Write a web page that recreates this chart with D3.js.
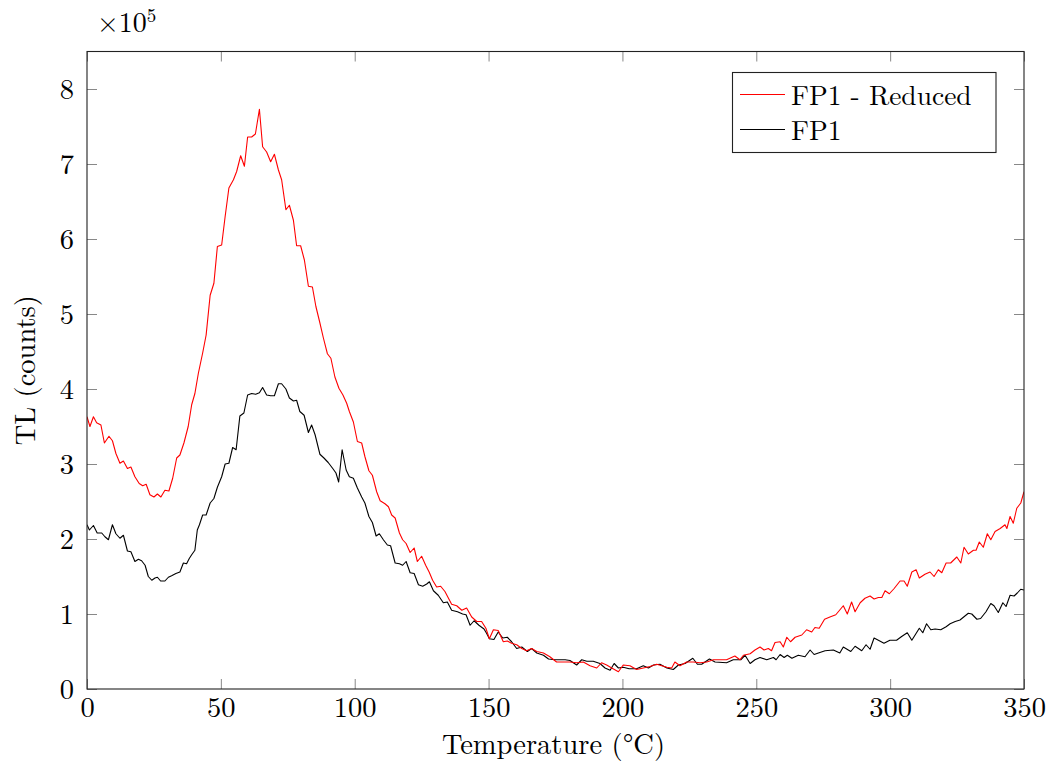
<!DOCTYPE html>
<html>
<head>
<meta charset="utf-8">
<script src="https://cdn.jsdelivr.net/npm/d3@7"></script>
<style>
  html, body { margin: 0; padding: 0; background: #fff; }
  svg text { font-family: "Latin Modern Roman", "CMU Serif", "Liberation Serif", serif; fill: #000; }
</style>
</head>
<body>
<svg id="chart" width="1058" height="771"></svg>
<script>
// Temperature (°C) and TL counts (×10^5)
const tempRed = [0,1.1,2.4,3.6,5.2,6.5,8.2,9.5,10.8,12.3,13.6,15.1,16.4,17.9,19.5,20.8,22.1,23.5,25,26.3,27.6,29.1,30.6,32,33.5,34.7,36.2,37.8,39.1,40.3,41.6,43.2,44.5,46,47.4,48.7,50.3,51.6,53,54.7,55.9,57.4,58.8,60,61.5,62.9,64.4,65.6,67.1,68.6,70,71.5,72.7,74.3,75.6,77.1,78.3,79.8,81.2,82.7,84.2,85.5,87,88.3,89.8,91.1,92.6,94.1,95.6,97,98,99.5,101,102.6,103.8,105.3,106.6,108.2,109.5,111.3,112.6,113.8,115.1,116.7,117.9,119.2,120.7,122.2,123.4,125,126.5,127.8,129.1,130.6,132.1,133.7,136.2,138.1,140,141.8,143.7,145.6,147.4,149,150.3,151.8,153.6,155.5,157,158.6,160.5,162.4,164.2,166.1,168,170.5,172.9,175.4,177.9,180.4,182.9,185.4,187.9,190.4,192.2,194.1,196,198.5,200.3,202.8,205.3,207.8,210.3,212.8,216.6,218.4,219.6,221.5,224,226.5,229,231.5,234,236.5,238.9,242,243.9,245.2,247.7,249.5,251.4,252.9,254.5,255.7,257,258.9,260.1,261.4,262.8,264.5,267,268.8,270.7,271.9,273.5,275.5,277.5,279.7,282.5,284,285.6,286.9,288.8,290.6,292.5,294,295.6,296.9,298.1,299.7,301.5,303.7,305.2,306.4,308.1,309.7,310.9,313,314.9,316.4,318,319.3,320.9,322.6,324.9,326.4,327.6,329.2,331.1,332.1,333.3,334.8,336.3,337.6,339.2,341.1,342.9,343.6,344.8,346,347.3,348.8,350];
const countsRed = [3.63,3.50,3.63,3.55,3.52,3.28,3.37,3.31,3.14,3.01,3.04,2.94,2.96,2.83,2.74,2.71,2.73,2.59,2.56,2.60,2.56,2.65,2.64,2.81,3.08,3.12,3.28,3.50,3.79,3.94,4.21,4.48,4.72,5.25,5.41,5.90,5.92,6.30,6.68,6.79,6.90,7.11,6.97,7.36,7.36,7.40,7.73,7.23,7.16,7.03,7.13,6.92,6.79,6.39,6.45,6.25,5.91,5.91,5.72,5.37,5.36,5.10,4.88,4.68,4.47,4.41,4.16,4.01,3.92,3.81,3.70,3.56,3.30,3.28,3.10,2.91,2.85,2.63,2.51,2.47,2.43,2.32,2.28,2.08,1.99,1.94,1.82,1.88,1.70,1.77,1.65,1.56,1.45,1.36,1.37,1.30,1.13,1.11,1.05,1.08,0.96,0.90,0.90,0.81,0.67,0.79,0.78,0.63,0.64,0.61,0.59,0.54,0.51,0.54,0.50,0.48,0.43,0.36,0.36,0.36,0.35,0.36,0.31,0.28,0.35,0.32,0.28,0.23,0.32,0.31,0.26,0.28,0.30,0.33,0.29,0.28,0.36,0.31,0.36,0.36,0.35,0.36,0.39,0.39,0.39,0.44,0.39,0.45,0.47,0.52,0.56,0.52,0.54,0.51,0.62,0.63,0.56,0.69,0.63,0.69,0.72,0.79,0.76,0.82,0.81,0.93,0.96,0.99,1.11,1.00,1.16,1.03,1.15,1.21,1.24,1.20,1.22,1.22,1.31,1.27,1.34,1.44,1.44,1.37,1.56,1.59,1.48,1.53,1.56,1.50,1.59,1.55,1.68,1.68,1.76,1.68,1.89,1.80,1.85,1.85,1.96,1.89,2.07,1.99,2.10,2.14,2.19,2.14,2.30,2.21,2.41,2.48,2.63];

const tempBlack = [0,0.9,2.4,3.8,5.5,6.7,8,9.5,10.8,12.3,13.6,15.1,16.4,17.9,19.2,20.4,21.7,22.9,24.2,25.4,26.3,27.5,29.1,30.4,31.6,33.2,34.7,36,37.2,38.2,39.1,40.3,41.2,42,43.2,44.5,46,47.4,48.7,50.3,51.6,53,54.4,55.7,57.1,58.6,60,61.5,63,64.4,65.6,67.1,68.6,70,71.5,72.7,74.3,75.6,77.1,78.3,79.5,81.1,82.7,83.9,85.2,87,88.5,90.1,91.8,93,94,95.3,96.8,98,99.5,101,102.6,103.8,105.3,106.6,108,109.2,110.7,112.2,113.4,115.1,116.7,117.9,119.2,120.7,122.2,123.8,125.4,126.9,127.9,129.4,131.2,133.1,134.6,136.2,138.4,140.3,141.6,143.1,144.6,146.4,148.3,149.3,150.3,152,153.6,155.3,157,158.6,160.5,162.4,164.5,166.1,168,170.5,172.4,174.8,176.7,178.6,180.4,182.9,184.8,186.7,189.1,191.6,193.5,195.4,196.9,198.5,200.3,202.5,205.3,207.8,209.7,211.6,214,216.6,219,220.9,223.4,226.3,228,229.6,232.5,234.6,238.9,241.4,244.2,245.8,247.7,249.5,251.4,253.9,256.4,257.4,258.9,260.4,261.6,263.3,265.7,268.2,270.1,271.6,273.2,275.7,278.8,281.2,282.5,285.3,286.9,289.4,291,292.5,294,295.6,297.7,299.9,302.4,304.3,306.4,308.1,310.9,312.2,313.6,315.2,316.8,318.9,320.9,322.4,324.3,326.1,329.2,330.5,332.4,333.8,335.8,337.6,338.8,340.4,342.1,343.3,344.8,346.3,347.5,348.8,350];
const countsBlack = [2.19,2.12,2.18,2.08,2.08,2.03,1.99,2.19,2.07,2.01,2.05,1.84,1.83,1.70,1.73,1.71,1.65,1.50,1.45,1.48,1.49,1.44,1.44,1.49,1.51,1.54,1.56,1.68,1.67,1.74,1.79,1.85,2.12,2.19,2.32,2.32,2.48,2.54,2.69,2.83,3.00,3.01,3.22,3.19,3.64,3.68,3.92,3.94,3.93,3.95,4.02,3.92,3.91,3.91,4.07,4.07,4.00,3.88,3.84,3.85,3.70,3.65,3.42,3.52,3.39,3.13,3.08,3.02,2.94,2.88,2.76,3.19,2.92,2.83,2.81,2.68,2.56,2.48,2.30,2.22,2.04,2.07,1.99,1.92,1.91,1.68,1.67,1.65,1.70,1.55,1.54,1.39,1.37,1.40,1.43,1.31,1.25,1.15,1.16,1.05,1.03,1.00,0.99,0.85,0.91,0.85,0.80,0.74,0.67,0.66,0.76,0.68,0.69,0.63,0.54,0.56,0.50,0.54,0.48,0.45,0.40,0.39,0.39,0.39,0.38,0.32,0.39,0.37,0.37,0.34,0.28,0.25,0.34,0.28,0.29,0.27,0.27,0.31,0.28,0.32,0.33,0.28,0.26,0.32,0.34,0.41,0.33,0.33,0.40,0.36,0.35,0.39,0.39,0.45,0.34,0.39,0.42,0.39,0.42,0.39,0.46,0.42,0.45,0.41,0.45,0.43,0.52,0.46,0.48,0.51,0.52,0.48,0.56,0.50,0.57,0.51,0.59,0.53,0.68,0.65,0.61,0.65,0.65,0.70,0.75,0.65,0.81,0.75,0.87,0.79,0.80,0.79,0.83,0.87,0.90,0.92,1.01,1.00,0.93,0.94,1.03,1.14,1.11,1.02,1.15,1.10,1.25,1.24,1.28,1.33,1.32];

const xTicks = [0, 50, 100, 150, 200, 250, 300, 350];
const yTicks = [0, 1, 2, 3, 4, 5, 6, 7, 8];
const seriesNames = ["FP1 - Reduced", "FP1"];
const seriesColors = ["#ff0000", "#000000"];

const svg = d3.select("#chart");
const L = 87, R = 1024, T = 51.5, B = 689;
const x = d3.scaleLinear().domain([0, 350]).range([L, R]);
const y = d3.scaleLinear().domain([0, 8.5]).range([B, T]);
const FONT = "Latin Modern Roman, CMU Serif, Liberation Serif, serif";
const FS = "28.5px";

// ticks (inward, all four sides)
function styleAxis(g, labels) {
  g.attr("font-family", FONT);
  g.select(".domain").remove();
  g.selectAll(".tick line").attr("stroke", "#888").attr("stroke-width", 1);
  if (!labels) g.selectAll(".tick text").remove();
  else g.selectAll(".tick text").style("font-size", FS).attr("fill", "#000");
}
svg.append("g").attr("transform", `translate(0,${B})`)
  .call(d3.axisBottom(x).tickValues(xTicks).tickSizeInner(-10).tickSizeOuter(0).tickPadding(8).tickFormat(d3.format("d")))
  .call(g => styleAxis(g, true));
svg.append("g").attr("transform", `translate(0,${T})`)
  .call(d3.axisTop(x).tickValues(xTicks).tickSizeInner(-10).tickSizeOuter(0))
  .call(g => styleAxis(g, false));
svg.append("g").attr("transform", `translate(${L},0)`)
  .call(d3.axisLeft(y).tickValues(yTicks).tickSizeInner(-10).tickSizeOuter(0).tickPadding(13).tickFormat(d3.format("d")))
  .call(g => styleAxis(g, true));
svg.append("g").attr("transform", `translate(${R},0)`)
  .call(d3.axisRight(y).tickValues(yTicks).tickSizeInner(-10).tickSizeOuter(0))
  .call(g => styleAxis(g, false));

// data lines
const line = d3.line().x(d => x(d[0])).y(d => y(d[1]));
const redData = tempRed.map((t, i) => [t, countsRed[i]]);
const blackData = tempBlack.map((t, i) => [t, countsBlack[i]]);
svg.append("clipPath").attr("id", "clip").append("rect")
  .attr("x", L).attr("y", T).attr("width", R - L).attr("height", B - T);
svg.append("path").datum(blackData).attr("d", line).attr("fill", "none")
  .attr("stroke", seriesColors[1]).attr("stroke-width", 1.1).attr("stroke-linejoin", "round")
  .attr("clip-path", "url(#clip)");
svg.append("path").datum(redData).attr("d", line).attr("fill", "none")
  .attr("stroke", seriesColors[0]).attr("stroke-width", 1.1).attr("stroke-linejoin", "round")
  .attr("clip-path", "url(#clip)");

// frame
svg.append("rect").attr("x", L).attr("y", T).attr("width", R - L).attr("height", B - T)
  .attr("fill", "none").attr("stroke", "#222").attr("stroke-width", 1.1);

// axis labels
svg.append("text").attr("x", (L + R) / 2 - 2).attr("y", 754).attr("text-anchor", "middle")
  .attr("font-family", FONT).style("font-size", FS).text("Temperature (°C)");
svg.append("text").attr("transform", `translate(35,${(T + B) / 2}) rotate(-90)`)
  .attr("text-anchor", "middle").attr("font-family", FONT).style("font-size", FS).text("TL (counts)");

// scale factor
const sf = svg.append("text").attr("x", 97).attr("y", 32).attr("font-family", FONT).style("font-size", "28px");
sf.append("tspan").text("×10");
sf.append("tspan").attr("dy", -10).style("font-size", "19px").text("5");

// legend
const lg = svg.append("g").attr("font-family", FONT);
lg.append("rect").attr("x", 732.5).attr("y", 72.5).attr("width", 263.5).attr("height", 80)
  .attr("fill", "#fff").attr("stroke", "#222").attr("stroke-width", 1.1);
seriesNames.forEach((name, i) => {
  const yy = 94.5 + i * 35;
  lg.append("line").attr("x1", 740).attr("x2", 785).attr("y1", yy).attr("y2", yy)
    .attr("stroke", seriesColors[i]).attr("stroke-width", 1.1);
  lg.append("text").attr("x", 791).attr("y", yy + 10.5).style("font-size", "27.5px").text(name);
});
</script>
</body>
</html>
